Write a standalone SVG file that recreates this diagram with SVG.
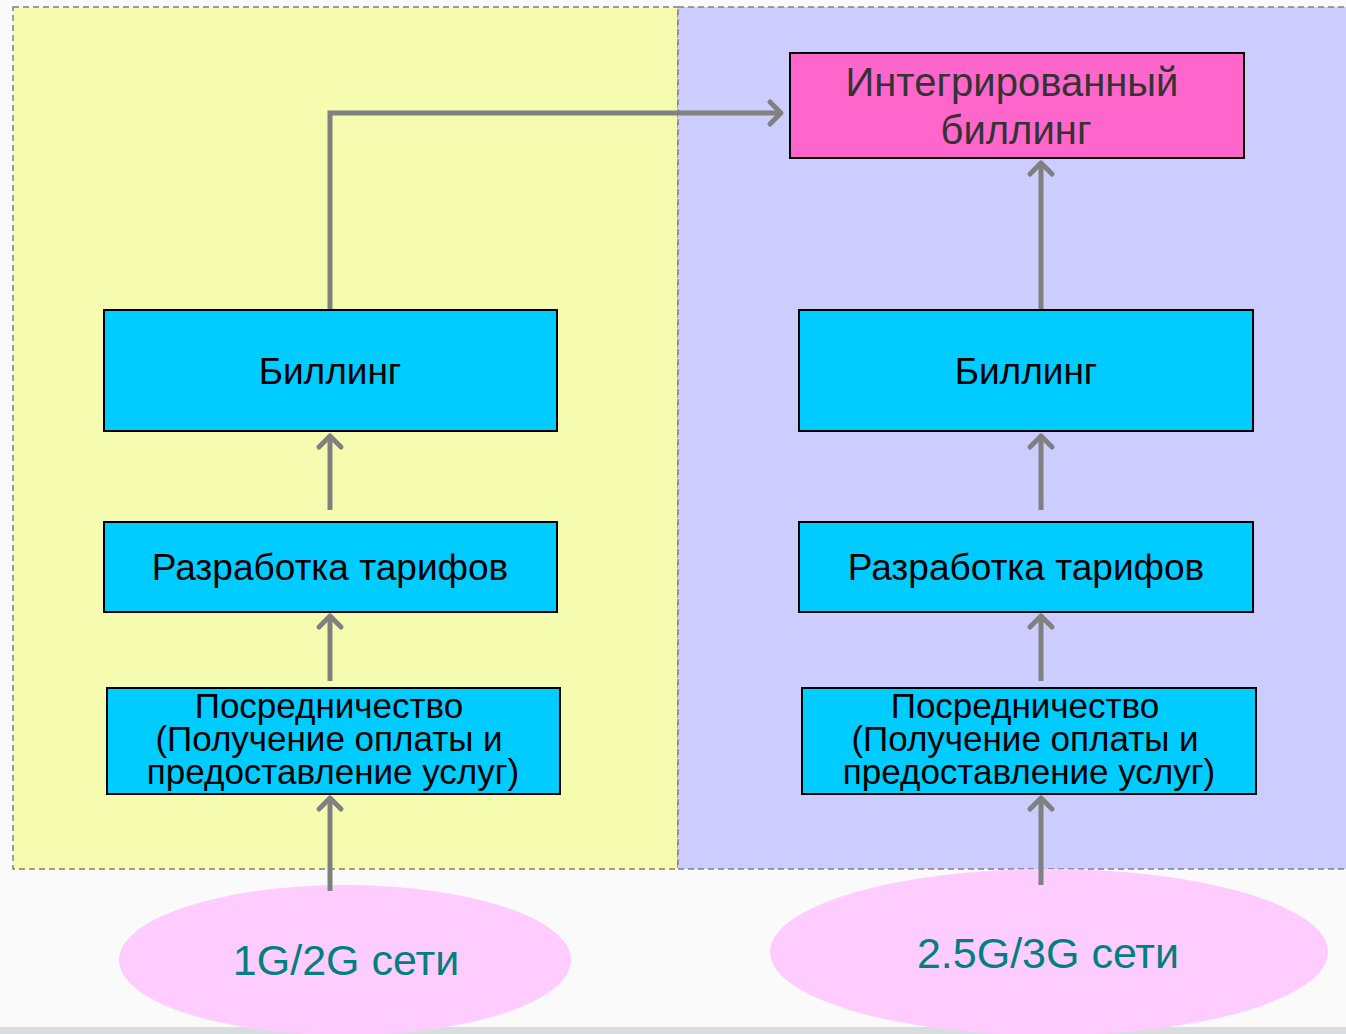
<svg xmlns="http://www.w3.org/2000/svg" width="1346" height="1034" viewBox="0 0 1346 1034">
<defs>
<style>
.panel{stroke:#808080;stroke-width:1.5;stroke-dasharray:6 4}
.box{fill:#00ccff;stroke:#000;stroke-width:2}
.t{font-family:"Liberation Sans",Arial,sans-serif;text-anchor:middle;fill:#000}
.conn{fill:none;stroke:#808080;stroke-width:5}
.net{fill:#ffccff}
.nt{font-family:"Liberation Sans",Arial,sans-serif;text-anchor:middle;fill:#008080;font-size:43px}
</style>
<marker id="ah" markerUnits="userSpaceOnUse" viewBox="-16 -16 22 32" refX="-2" refY="0" markerWidth="22" markerHeight="32" orient="auto">
<path d="M-11,-11 L0,0 L-11,11" fill="none" stroke="#808080" stroke-width="5" stroke-linecap="round" stroke-linejoin="round"/>
</marker>
</defs>
<rect x="0" y="0" width="1346" height="1034" fill="#fafafa"/>
<rect x="0" y="1027" width="1346" height="7" fill="#d9dde0"/>
<g id="panel-left"><rect class="panel" x="13" y="7" width="665" height="862" fill="#f5fcb0"/></g>
<g id="panel-right"><rect class="panel" x="678" y="7" width="672" height="862" fill="#ccccff"/></g>

<g id="net-left"><ellipse class="net" cx="345" cy="960" rx="226" ry="75"/><text class="nt" x="346" y="975">1G/2G сети</text></g>
<g id="net-right"><ellipse class="net" cx="1049" cy="952" rx="279" ry="83"/><text class="nt" x="1048" y="968">2.5G/3G сети</text></g>

<g id="integrated">
<rect x="790" y="53" width="454" height="105" fill="#ff66cc" stroke="#000" stroke-width="2"/>
<text class="t" x="1012" y="96" font-size="40" style="fill:#333333">Интегрированный</text>
<text class="t" x="1016" y="144" font-size="40" style="fill:#333333">биллинг</text>
</g>

<g id="billing-left"><rect class="box" x="104" y="310" width="453" height="121"/><text class="t" x="330" y="384" font-size="37">Биллинг</text></g>
<g id="tariff-left"><rect class="box" x="104" y="522" width="453" height="90"/><text class="t" x="330" y="580" font-size="37">Разработка тарифов</text></g>
<g id="mediation-left"><rect class="box" x="107" y="688" width="453" height="106"/>
<text class="t" x="329" y="718" font-size="35">Посредничество</text>
<text class="t" x="329" y="751" font-size="35">(Получение оплаты и</text>
<text class="t" x="333" y="784" font-size="35">предоставление услуг)</text></g>

<g id="billing-right"><rect class="box" x="799" y="310" width="454" height="121"/><text class="t" x="1026" y="384" font-size="37">Биллинг</text></g>
<g id="tariff-right"><rect class="box" x="799" y="522" width="454" height="90"/><text class="t" x="1026" y="580" font-size="37">Разработка тарифов</text></g>
<g id="mediation-right"><rect class="box" x="802" y="688" width="454" height="106"/>
<text class="t" x="1025" y="718" font-size="35">Посредничество</text>
<text class="t" x="1025" y="751" font-size="35">(Получение оплаты и</text>
<text class="t" x="1029" y="784" font-size="35">предоставление услуг)</text></g>

<g id="connectors">
<path class="conn" d="M330,891 V800" marker-end="url(#ah)"/>
<path class="conn" d="M330,681 V618" marker-end="url(#ah)"/>
<path class="conn" d="M330,510 V438" marker-end="url(#ah)"/>
<path class="conn" d="M330,309 V113 H779" marker-end="url(#ah)"/>
<path class="conn" d="M1041,885 V800" marker-end="url(#ah)"/>
<path class="conn" d="M1041,681 V618" marker-end="url(#ah)"/>
<path class="conn" d="M1041,510 V438" marker-end="url(#ah)"/>
<path class="conn" d="M1041,309 V165" marker-end="url(#ah)"/>
</g>
</svg>
